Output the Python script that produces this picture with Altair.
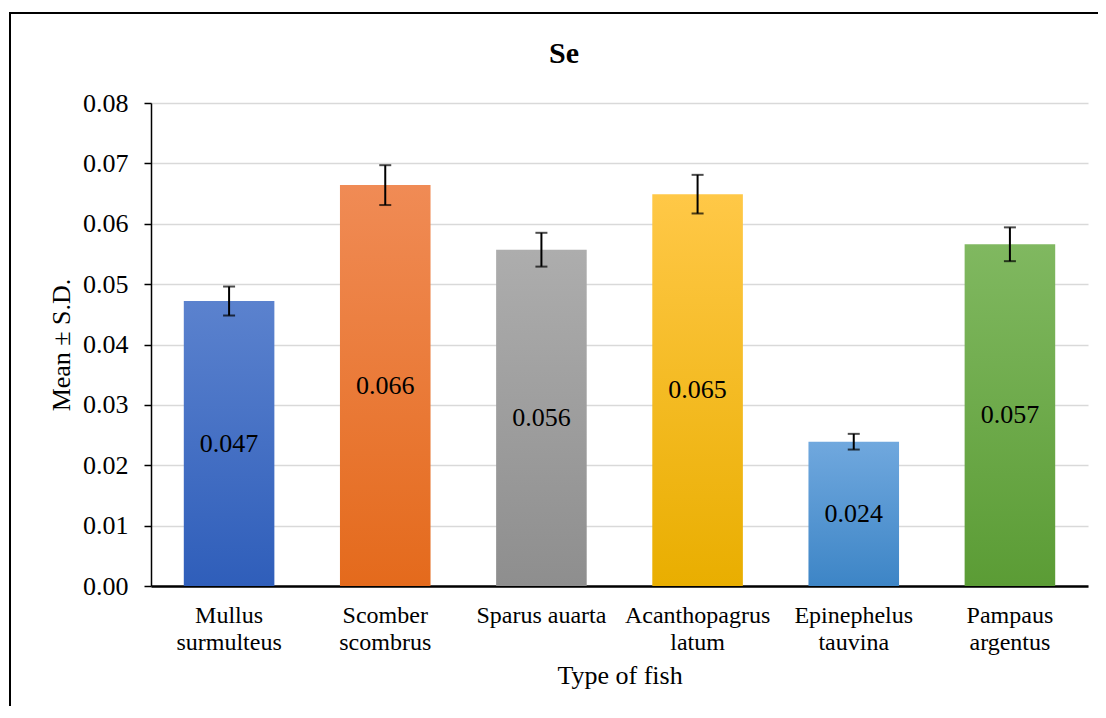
import altair as alt
import pandas as pd

# ---- data ----
fish = ["Mullus surmulteus", "Scomber scombrus", "Sparus auarta",
        "Acanthopagrus latum", "Epinephelus tauvina", "Pampaus argentus"]
mean = [0.0472, 0.0664, 0.0557, 0.0649, 0.0239, 0.0566]
sd = [0.0024, 0.0033, 0.0028, 0.0032, 0.0013, 0.0028]
y_ticks = [0.00, 0.01, 0.02, 0.03, 0.04, 0.05, 0.06, 0.07, 0.08]
chart_title = "Se"

# ---- styles ----
top_colors = ["#5B82CE", "#F08B55", "#ADADAD", "#FFC847", "#70A8DE", "#80B860"]
bottom_colors = ["#2F5EBA", "#E46A1C", "#8E8E8E", "#E9AE00", "#3D85C6", "#5B9C35"]
FONT = "Liberation Serif, Times New Roman, serif"

df = pd.DataFrame({"fish": fish, "mean": mean, "sd": sd})
df["lo"] = df["mean"] - df["sd"]
df["hi"] = df["mean"] + df["sd"]
df["mid"] = df["mean"] / 2

xscale = alt.Scale(paddingInner=0.42, paddingOuter=0.21)
yscale = alt.Scale(domain=[0, 0.08], nice=False)

x_axis = alt.Axis(
    title="Type of fish", labelAngle=0, ticks=False,
    labelExpr="datum.label == 'Sparus auarta' ? datum.label : split(datum.label, ' ')",
    labelFont=FONT, labelFontSize=24, labelColor="black", labelLineHeight=27,
    labelPadding=17, domainColor="black", domainWidth=2.5,
    titleFont=FONT, titleFontSize=26, titleFontWeight="normal", titleColor="black",
    titlePadding=8,
)
y_axis = alt.Axis(
    title="Mean ± S.D.", values=y_ticks, format=".2f",
    labelFont=FONT, labelFontSize=26, labelColor="black", labelPadding=16,
    tickSize=7, tickColor="black", tickWidth=1.5,
    domainColor="black", domainWidth=1.5,
    grid=True, gridColor="#D9D9D9", gridWidth=1.5,
    titleFont=FONT, titleFontSize=26, titleFontWeight="normal", titleColor="black",
    titlePadding=8,
)


def X():
    return alt.X("fish:N", sort=fish, scale=xscale, axis=x_axis)


def Y(field):
    return alt.Y(field, scale=yscale, axis=y_axis)


base = alt.Chart(df)

layers = []
for i, name in enumerate(fish):
    grad = alt.Gradient(
        gradient="linear",
        stops=[alt.GradientStop(color=top_colors[i], offset=0),
               alt.GradientStop(color=bottom_colors[i], offset=1)],
        x1=0, x2=0, y1=0, y2=1,
    )
    bar = base.transform_filter(alt.datum.fish == name).mark_bar(color=grad).encode(
        x=X(), y=Y("mean:Q"),
    )
    layers.append(bar)

rule = base.mark_rule(color="black", strokeWidth=2).encode(
    x=X(), y=Y("lo:Q"), y2="hi:Q"
)
cap_lo = base.mark_tick(color="black", size=12, thickness=2).encode(
    x=X(), y=Y("lo:Q")
)
cap_hi = base.mark_tick(color="black", size=12, thickness=2).encode(
    x=X(), y=Y("hi:Q")
)
labels = base.mark_text(font=FONT, fontSize=26, color="black", baseline="middle").encode(
    x=X(), y=Y("mid:Q"), text=alt.Text("mean:Q", format=".3f")
)
frame = alt.Chart(pd.DataFrame({"k": [0]})).mark_rect(
    fill="transparent", stroke="black", strokeWidth=2
).encode(
    x=alt.value(-141), x2=alt.value(980), y=alt.value(-90), y2=alt.value(660)
)
title = alt.Chart(pd.DataFrame({"t": [chart_title]})).mark_text(
    font=FONT, fontSize=30, fontWeight="bold", color="black", baseline="alphabetic"
).encode(
    text="t:N", x=alt.value(413), y=alt.value(-40)
)

chart = alt.layer(frame, *layers, rule, cap_lo, cap_hi, labels, title).properties(
    width=937, height=483,
    autosize=alt.AutoSizeParams(type="none"),
    padding={"left": 143, "top": 95, "right": 10, "bottom": 120},
    background="white",
).configure(font=FONT).configure_axis(
    labelFont=FONT, titleFont=FONT
).configure_text(font=FONT).configure_view(stroke=None)

chart.save("out.html", embed_options={"renderer": "svg", "actions": False})
